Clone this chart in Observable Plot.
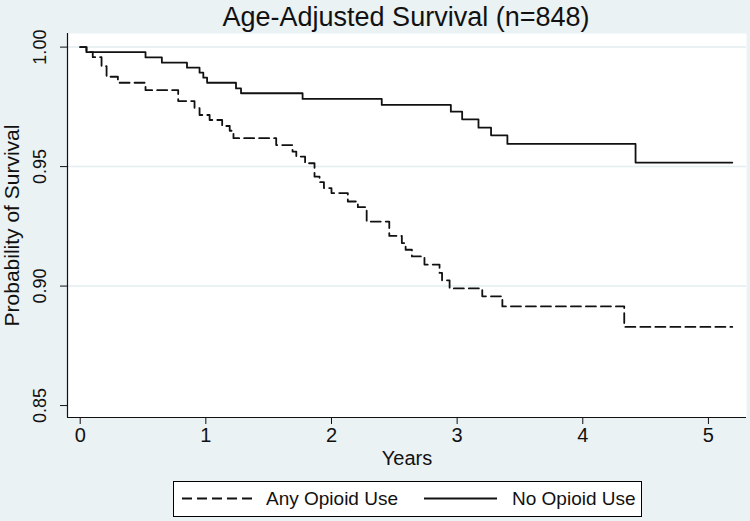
<!DOCTYPE html>
<html><head><meta charset="utf-8">
<script src="https://cdn.jsdelivr.net/npm/d3@7"></script>
<script src="https://cdn.jsdelivr.net/npm/@observablehq/plot@0.6"></script>
<style>
html,body{margin:0;padding:0;background:#eaf2f3;}
#wrap{position:relative;width:750px;height:521px;font-family:"Liberation Sans",Arial,sans-serif;color:#111;}
#title{height:33px;line-height:34px;font-size:27px;text-align:center;padding-left:62px;white-space:nowrap;}
#chart svg{display:block;}
#legend{position:absolute;left:173px;top:481px;width:469px;height:36px;box-sizing:border-box;border:1px solid #000;background:#fff;font-size:19px;}
#legend .lab{position:absolute;top:0;line-height:34px;white-space:nowrap;}
#legend svg{position:absolute;top:0;left:0;}
</style></head>
<body><div id="wrap"><div id="title">Age-Adjusted Survival (n=848)</div><div id="chart"></div><div id="legend"></div></div>
<script>
// Series (Kaplan-Meier step values)
const seriesNames = ["Any Opioid Use", "No Opioid Use"];
const opioidYears = [0, 0.05, 0.10, 0.17, 0.21, 0.30, 0.52, 0.78, 0.91, 0.95, 1.03, 1.13, 1.19, 1.22, 1.56, 1.69, 1.72, 1.79, 1.865, 1.905, 1.94, 2.00, 2.13, 2.21, 2.28, 2.46, 2.56, 2.59, 2.64, 2.74, 2.86, 2.88, 2.94, 3.20, 3.36, 4.33, 5.19];
const opioidSurv  = [1.0, 0.9979, 0.9958, 0.9920, 0.9876, 0.9851, 0.9820, 0.9774, 0.9745, 0.9716, 0.9695, 0.9670, 0.9650, 0.9619, 0.9590, 0.9563, 0.9542, 0.9514, 0.9458, 0.9435, 0.9410, 0.9389, 0.9354, 0.9330, 0.9270, 0.9210, 0.9180, 0.9152, 0.9124, 0.9090, 0.9055, 0.9024, 0.8990, 0.8957, 0.8915, 0.8829, 0.8829];
const noOpioidYears = [0, 0.05, 0.52, 0.65, 0.85, 0.95, 0.98, 1.01, 1.24, 1.28, 1.77, 2.40, 2.95, 3.04, 3.17, 3.27, 3.40, 4.42, 5.19];
const noOpioidSurv  = [1.0, 0.9979, 0.9957, 0.9935, 0.9914, 0.9893, 0.9872, 0.9851, 0.9827, 0.9807, 0.9783, 0.9758, 0.9730, 0.9698, 0.9663, 0.9631, 0.9595, 0.9517, 0.9517];
// Axes
const xTicks = [0, 1, 2, 3, 4, 5];
const yTicks = [0.85, 0.90, 0.95, 1.00];
const yGrid = [0.90, 0.95, 1.00];
const xDomain = [-0.101, 5.303];
const yDomain = [0.845, 1.0057];

const opioidRows = opioidYears.map((t, i) => ({t, s: opioidSurv[i]}));
const noOpioidRows = noOpioidYears.map((t, i) => ({t, s: noOpioidSurv[i]}));

const font = '"Liberation Sans", Arial, sans-serif';
const chart = Plot.plot({
  width: 750, height: 447,
  marginTop: 0, marginBottom: 63, marginLeft: 67, marginRight: 4,
  style: {background: "transparent", fontFamily: font, color: "#111", overflow: "visible"},
  x: {domain: xDomain},
  y: {domain: yDomain},
  marks: [
    Plot.frame({fill: "white", stroke: "none"}),
    Plot.ruleY(yGrid, {stroke: "#e3ecee", strokeWidth: 1.5}),
    Plot.axisX({ticks: xTicks, tickSize: 7, tickPadding: 3, fontSize: 20, label: null, tickFormat: d => String(d)}),
    Plot.axisY({ticks: yTicks, tickSize: 7, tickFormat: () => "", label: null}),
    Plot.text(yTicks, {y: d => d, text: d => d.toFixed(2), frameAnchor: "left", textAnchor: "middle", lineAnchor: "middle", dx: -27, rotate: -90, fontSize: 18}),
    Plot.ruleX([xDomain[0]], {stroke: "#111", strokeWidth: 1.2}),
    Plot.ruleY([yDomain[0]], {stroke: "#111", strokeWidth: 1.2}),
    Plot.line(opioidRows, {x: "t", y: "s", curve: "step-after", stroke: "#111", strokeWidth: 1.8, strokeDasharray: "10,5"}),
    Plot.line(noOpioidRows, {x: "t", y: "s", curve: "step-after", stroke: "#111", strokeWidth: 1.8}),
    Plot.text(["Years"], {text: d => d, frameAnchor: "bottom", lineAnchor: "middle", dy: 41, fontSize: 20}),
    Plot.text(["Probability of Survival"], {text: d => d, frameAnchor: "left", textAnchor: "middle", lineAnchor: "middle", dx: -55, rotate: -90, fontSize: 21})
  ]
});
document.getElementById("chart").appendChild(chart);

const leg = document.getElementById("legend");
leg.innerHTML =
  '<svg width="467" height="34"><line x1="8" x2="82" y1="16.5" y2="16.5" stroke="#111" stroke-width="1.8" stroke-dasharray="10,5"/>' +
  '<line x1="250" x2="323" y1="16.5" y2="16.5" stroke="#111" stroke-width="1.8"/></svg>' +
  '<span class="lab" style="left:92px">' + seriesNames[0] + '</span>' +
  '<span class="lab" style="left:338px">' + seriesNames[1] + '</span>';
</script>
</body></html>
